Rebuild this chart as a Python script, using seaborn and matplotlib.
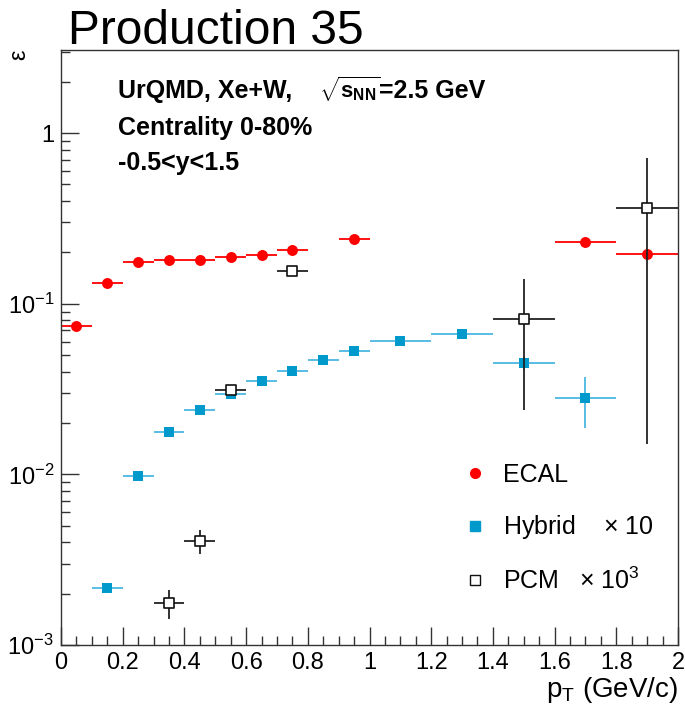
import matplotlib
matplotlib.use("Agg")
import matplotlib.pyplot as plt
from matplotlib.lines import Line2D
from matplotlib.ticker import FixedLocator, FixedFormatter, NullFormatter
from matplotlib.transforms import offset_copy
import numpy as np
import pandas as pd
import seaborn as sns

# ---- efficiency vs pT (Hybrid scaled x10, PCM scaled x10^3) ----
ecal_pt = [0.05, 0.15, 0.25, 0.35, 0.45, 0.55, 0.65, 0.75, 0.95, 1.7, 1.9]
ecal_dpt = [0.05, 0.05, 0.05, 0.05, 0.05, 0.05, 0.05, 0.05, 0.05, 0.1, 0.1]
ecal_eff = [0.074, 0.133, 0.176, 0.181, 0.181, 0.187, 0.194, 0.207, 0.239, 0.231, 0.197]
ecal_err = [0.003, 0.006, 0.010, 0.008, 0.011, 0.012, 0.012, 0.013, 0.015, 0.010, 0.012]

hyb_pt = [0.15, 0.25, 0.35, 0.45, 0.55, 0.65, 0.75, 0.85, 0.95, 1.1, 1.3, 1.5, 1.7]
hyb_dpt = [0.05, 0.05, 0.05, 0.05, 0.05, 0.05, 0.05, 0.05, 0.05, 0.1, 0.1, 0.1, 0.1]
hyb_eff = [0.00215, 0.0098, 0.0177, 0.0239, 0.0295, 0.0352, 0.0406, 0.0465, 0.0530,
           0.0604, 0.0664, 0.0449, 0.0281]
hyb_err = [0.0001, 0.0004, 0.0007, 0.0009, 0.0011, 0.0013, 0.0015, 0.0017, 0.0020,
           0.0025, 0.0030, 0.0040, 0.0093]

pcm_pt = [0.35, 0.45, 0.55, 0.75, 1.5, 1.9]
pcm_dpt = [0.05, 0.05, 0.05, 0.05, 0.1, 0.1]
pcm_eff = [0.00176, 0.00409, 0.0313, 0.1547, 0.0817, 0.365]
pcm_err = [0.00034, 0.00066, 0.0020, 0.0080, 0.058, 0.350]

y_major = [1e-3, 1e-2, 1e-1, 1.0]
y_major_labels = ["10$^{-3}$", "10$^{-2}$", "10$^{-1}$", "1"]
x_major = [0, 0.2, 0.4, 0.6, 0.8, 1.0, 1.2, 1.4, 1.6, 1.8, 2.0]
x_major_labels = ["0", "0.2", "0.4", "0.6", "0.8", "1", "1.2", "1.4", "1.6", "1.8", "2"]

sns.set_theme(style="ticks")
plt.rcParams["font.family"] = ["Liberation Sans", "DejaVu Sans"]
plt.rcParams["text.color"] = "black"
plt.rcParams["axes.labelcolor"] = "black"
plt.rcParams["mathtext.fontset"] = "custom"
plt.rcParams["mathtext.rm"] = "Liberation Sans"
plt.rcParams["mathtext.it"] = "Liberation Sans:italic"
plt.rcParams["mathtext.bf"] = "Liberation Sans:bold"
plt.rcParams["mathtext.default"] = "regular"

RED = "#ff0000"
BLUE = "#0099cc"
BLUE_LINE = "#4cb8e0"
DARK = "#333333"

fig = plt.figure(figsize=(6.85, 7.18), dpi=100)
ax = fig.add_axes([61 / 685, 1 - 645 / 718, 617 / 685, 595 / 718])

frames = {
    "ECAL": pd.DataFrame({"pt": ecal_pt, "dpt": ecal_dpt, "eff": ecal_eff, "err": ecal_err}),
    "Hybrid": pd.DataFrame({"pt": hyb_pt, "dpt": hyb_dpt, "eff": hyb_eff, "err": hyb_err}),
    "PCM": pd.DataFrame({"pt": pcm_pt, "dpt": pcm_dpt, "eff": pcm_eff, "err": pcm_err}),
}
styles = {
    "ECAL": dict(line=RED, marker="o", face=RED, edge=RED, ms=62, lw_edge=0),
    "Hybrid": dict(line=BLUE_LINE, marker="s", face=BLUE, edge=BLUE, ms=58, lw_edge=0),
    "PCM": dict(line="#222222", marker="s", face="white", edge="#111111", ms=62, lw_edge=1.2),
}

z = 2
for name, df in frames.items():
    st = styles[name]
    ax.errorbar(df["pt"], df["eff"], xerr=df["dpt"], yerr=df["err"], fmt="none",
                ecolor=st["line"], elinewidth=1.3, capsize=0, zorder=z)
    sns.scatterplot(data=df, x="pt", y="eff", ax=ax, marker=st["marker"], s=st["ms"],
                    color=st["face"], edgecolor=st["edge"], linewidth=st["lw_edge"],
                    zorder=z + 0.5, legend=False)
    z += 1

ax.set_yscale("log")
ax.set_xlim(0, 2)
ax.set_ylim(1e-3, 3.07)

ax.xaxis.set_major_locator(FixedLocator(x_major))
ax.xaxis.set_major_formatter(FixedFormatter(x_major_labels))
ax.xaxis.set_minor_locator(FixedLocator(np.arange(0, 2.001, 0.05)))
ax.yaxis.set_major_locator(FixedLocator(y_major))
ax.yaxis.set_major_formatter(FixedFormatter(y_major_labels))
minors = [m * 10.0 ** e for e in range(-3, 1) for m in range(2, 10)]
ax.yaxis.set_minor_locator(FixedLocator(minors))
ax.yaxis.set_minor_formatter(NullFormatter())

ax.tick_params(which="both", direction="in", colors=DARK, labelcolor="black",
               labelsize=17, top=False, right=False)
ax.tick_params(which="major", length=13, width=1.0)
ax.tick_params(which="minor", length=6.5, width=1.0)
ax.tick_params(axis="x", which="major", pad=5)
ax.tick_params(axis="y", which="major", pad=5)
for sp in ax.spines.values():
    sp.set_color(DARK)
    sp.set_linewidth(1.0)
    sp.set_visible(True)

ax.set_xlabel("p$_{T}$ (GeV/c)", fontsize=20, loc="right")
ax.xaxis.set_label_coords(1.0, -0.050)
ax.set_ylabel("ε", fontsize=17, loc="top")
ax.yaxis.set_label_coords(-0.05, 1.0)

fig.text(68 / 685, 1 - 44 / 718, "Production 35", fontsize=34.5, va="baseline", ha="left")

# header: the energy term is drawn as separate pieces so the radical stays compact
t1 = ax.text(0.092, 0.919, "UrQMD, Xe+W,", transform=ax.transAxes, fontsize=18,
             fontweight="bold", va="baseline")
t2 = ax.text((319 - 61) / 617, 0.919, r"$\sqrt{\mathbf{s}_{\mathbf{NN}}}$",
             transform=ax.transAxes, fontsize=16, va="baseline")
fig.canvas.draw()
w2 = t2.get_window_extent().width * 72 / fig.dpi
ax.text((319 - 61) / 617, 0.919, "=2.5 GeV", fontsize=18, fontweight="bold", va="baseline",
        transform=offset_copy(ax.transAxes, fig=fig, x=w2 - 1, y=0, units="points"))
ax.text(0.092, 0.857, "Centrality 0-80%", transform=ax.transAxes, fontsize=18,
        fontweight="bold", va="baseline")
ax.text(0.092, 0.798, "-0.5<y<1.5", transform=ax.transAxes, fontsize=18,
        fontweight="bold", va="baseline")

handles = [
    Line2D([], [], ls="none", marker="o", ms=7, mfc=RED, mec=RED),
    Line2D([], [], ls="none", marker="s", ms=6.5, mfc=BLUE, mec=BLUE),
    Line2D([], [], ls="none", marker="s", ms=6.5, mfc="white", mec="#111111", mew=1.0),
]
labels = ["ECAL", r"Hybrid    $\times$ 10", r"PCM   $\times$ 10$^{3}$"]
ax.legend(handles, labels, loc="upper left", bbox_to_anchor=((462 - 61) / 617, (645 - 463) / 595),
          frameon=False, fontsize=18, handlelength=1.0, handletextpad=0.65,
          labelspacing=1.05, borderpad=0, borderaxespad=0)

fig.savefig("out.png", dpi=100)
